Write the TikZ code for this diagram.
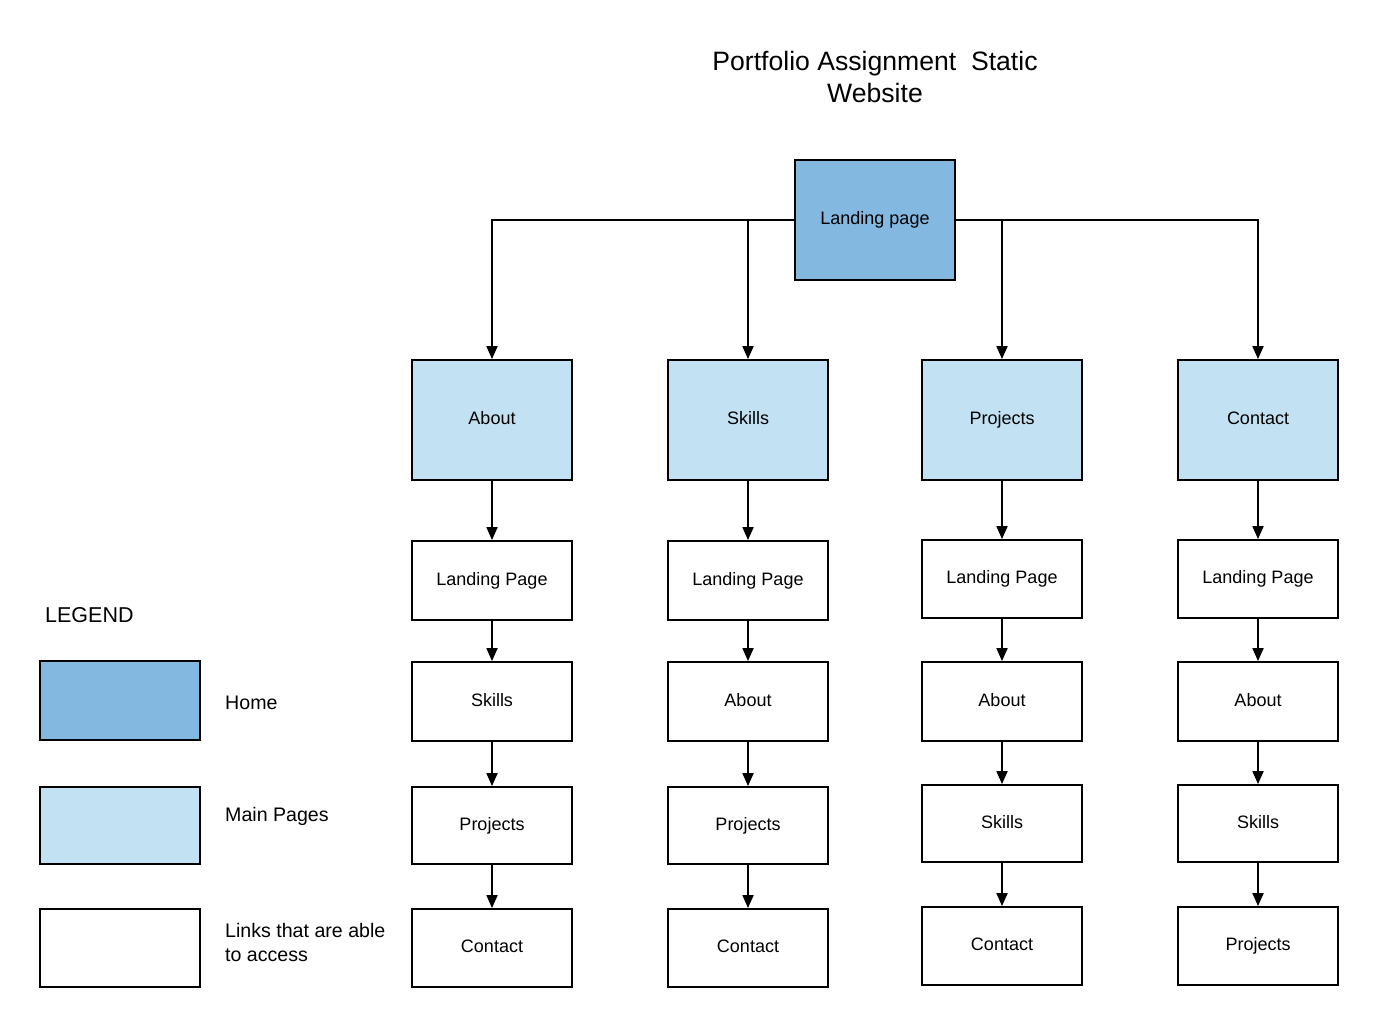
\documentclass[tikz,border=0pt]{standalone}
\usepackage{fontspec}
\setmainfont{Liberation Sans}
\usetikzlibrary{arrows.meta}
\definecolor{homeblue}{HTML}{83B8E1}
\definecolor{mainblue}{HTML}{C2E2F4}
\begin{document}
\begin{tikzpicture}[x=1pt,y=-1pt,
  box/.style={draw=black,line width=1.8pt,minimum width=160pt,inner sep=0pt,text height=13pt,text depth=4pt,font=\fontsize{18}{21}\selectfont,text=black},
  homebox/.style={box,fill=homeblue,minimum height=120pt},
  mainbox/.style={box,fill=mainblue,minimum height=120pt},
  linkbox/.style={box,fill=white},
  arr/.style={line width=1.8pt,-{Triangle[length=13pt,width=11pt]}},
  lbl/.style={anchor=west,inner sep=0pt,font=\fontsize{19.6}{24}\selectfont,align=left}
]
\useasboundingbox (0,0) rectangle (1378,1028);
\fill[white] (0,0) rectangle (1378,1028);

\node[inner sep=0pt,align=center,font=\fontsize{26.6}{32}\selectfont] (title) at (875,77) {Portfolio Assignment\ \ Static\\Website};

\node[homebox] (lp) at (875,220) {Landing page};

\node[mainbox] (about) at (492,420) {About};
\node[mainbox] (skills) at (748,420) {Skills};
\node[mainbox] (projects) at (1002,420) {Projects};
\node[mainbox] (contact) at (1258,420) {Contact};

% column About
\node[linkbox,minimum height=79pt] (a1) at (492,580.5) {Landing Page};
\node[linkbox,minimum height=79pt] (a2) at (492,701.5) {Skills};
\node[linkbox,minimum height=77pt] (a3) at (492,825.5) {Projects};
\node[linkbox,minimum height=78pt] (a4) at (492,948) {Contact};
% column Skills
\node[linkbox,minimum height=79pt] (b1) at (748,580.5) {Landing Page};
\node[linkbox,minimum height=79pt] (b2) at (748,701.5) {About};
\node[linkbox,minimum height=77pt] (b3) at (748,825.5) {Projects};
\node[linkbox,minimum height=78pt] (b4) at (748,948) {Contact};
% column Projects
\node[linkbox,minimum height=78pt] (c1) at (1002,579) {Landing Page};
\node[linkbox,minimum height=79pt] (c2) at (1002,701.5) {About};
\node[linkbox,minimum height=77pt] (c3) at (1002,823.5) {Skills};
\node[linkbox,minimum height=78pt] (c4) at (1002,946) {Contact};
% column Contact
\node[linkbox,minimum height=78pt] (d1) at (1258,579) {Landing Page};
\node[linkbox,minimum height=79pt] (d2) at (1258,701.5) {About};
\node[linkbox,minimum height=77pt] (d3) at (1258,823.5) {Skills};
\node[linkbox,minimum height=78pt] (d4) at (1258,946) {Projects};

% connectors
\draw[arr] (lp.west) -| (about.north);
\draw[arr] (lp.west) -| (skills.north);
\draw[arr] (lp.east) -| (projects.north);
\draw[arr] (lp.east) -| (contact.north);

\foreach \c/\m in {a/about,b/skills,c/projects,d/contact}{
  \draw[arr] (\m.south) -- (\c1.north);
  \draw[arr] (\c1.south) -- (\c2.north);
  \draw[arr] (\c2.south) -- (\c3.north);
  \draw[arr] (\c3.south) -- (\c4.north);
}

% legend
\node[anchor=west,inner sep=0pt,font=\fontsize{21.5}{24}\selectfont] (legend) at (45,615) {LEGEND};
\node[box,fill=homeblue,minimum height=79pt] (lg1) at (120,700.5) {};
\node[box,fill=mainblue,minimum height=77pt] (lg2) at (120,825.5) {};
\node[box,fill=white,minimum height=78pt] (lg3) at (120,948) {};
\node[lbl] (lt1) at (225,703) {Home};
\node[lbl] (lt2) at (225,816) {Main Pages};
\node[lbl] (lt3) at (225,942) {Links that are able\\to access};
\end{tikzpicture}
\end{document}
